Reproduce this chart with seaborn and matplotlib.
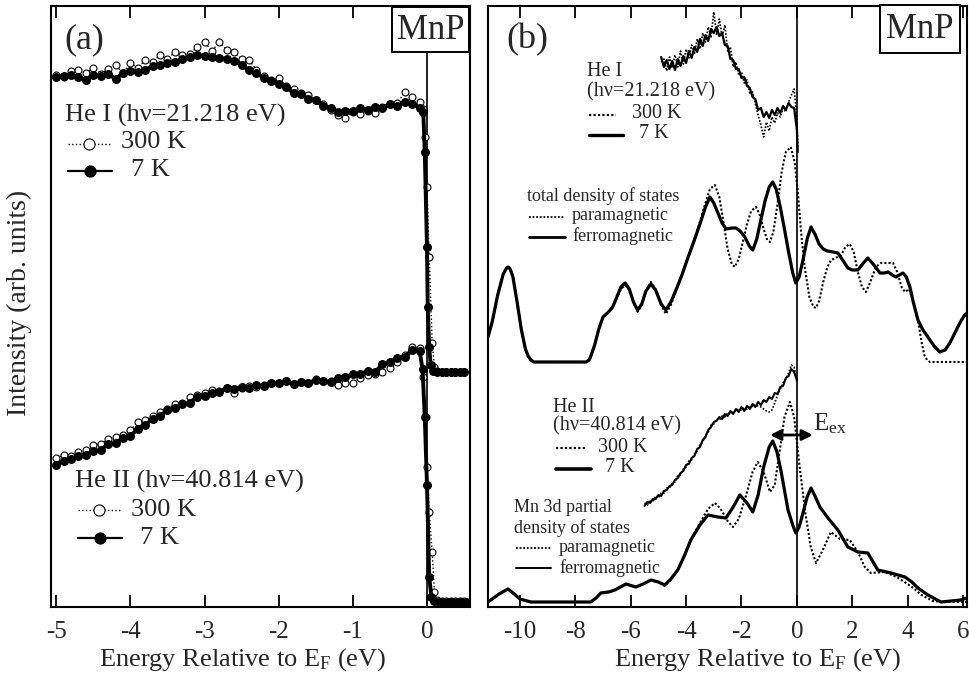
import numpy as np
import matplotlib
matplotlib.use("Agg")
import matplotlib.pyplot as plt
from matplotlib.lines import Line2D
from matplotlib.patches import Rectangle
import seaborn as sns

sns.set_style("ticks")
plt.rcParams["font.family"] = ["Liberation Serif", "DejaVu Serif"]
plt.rcParams["mathtext.fontset"] = "custom"
plt.rcParams["mathtext.rm"] = "Liberation Serif"
plt.rcParams["mathtext.it"] = "Liberation Serif:italic"
plt.rcParams["axes.unicode_minus"] = False

# ------------------------------------------------------------------
# Panel (a): photoemission spectra, energy (eV) vs intensity (arb.)
# ------------------------------------------------------------------
grid_a = np.round(np.arange(-5.0, -0.05, 0.1), 2)          # -5.0 ... -0.1

heI_7k_main = [530, 531, 532, 530, 527, 532, 531, 533, 528, 534,
               536, 535, 537, 541, 542, 544, 545, 548, 550, 552,
               551, 550, 549, 548, 546, 542, 537, 534, 529, 526,
               523, 520, 514, 513, 508, 507, 501, 499, 495, 496,
               496, 499, 497, 500, 499, 503, 501, 505, 503, 499]
heI_7k_edgeE = [-0.05, -0.03, 0.0, 0.01, 0.03, 0.05, 0.08, 0.14, 0.2, 0.26, 0.32, 0.38, 0.44, 0.5]
heI_7k_edgeI = [495, 455, 360, 300, 260, 242, 236, 235, 235, 235, 235, 235, 235, 235]

heI_300k_main = [532, 530, 536, 537, 534, 539, 533, 538, 542, 534,
                 544, 539, 547, 545, 552, 548, 555, 552, 553, 560,
                 565, 556, 565, 557, 555, 548, 547, 537, 531, 527,
                 529, 521, 518, 514, 512, 507, 503, 497, 492, 489,
                 495, 493, 496, 494, 500, 503, 504, 515, 510, 505]
heI_300k_edgeE = [-0.05, -0.03, 0.0, 0.03, 0.07, 0.1, 0.14, 0.2, 0.26, 0.32, 0.38, 0.44, 0.5]
heI_300k_edgeI = [498, 470, 420, 350, 264, 240, 236, 235, 235, 235, 235, 235, 235]

heII_7k_main = [142, 146, 148, 151, 152, 156, 157, 163, 164, 169,
                171, 178, 182, 188, 191, 197, 199, 203, 204, 210,
                211, 214, 215, 219, 218, 220, 219, 222, 221, 224,
                224, 226, 223, 225, 224, 227, 226, 225, 229, 230,
                233, 233, 236, 235, 243, 245, 249, 250, 257, 256]
heII_7k_edgeE = [-0.06, -0.03, 0.0, 0.03, 0.06, 0.1, 0.16, 0.22, 0.28, 0.34, 0.4, 0.46, 0.52]
heII_7k_edgeI = [238, 190, 122, 30, 10, 6, 5, 5, 5, 5, 5, 5, 5]

heII_300k_main = [149, 152, 151, 155, 157, 162, 163, 168, 170, 172,
                  177, 185, 187, 191, 195, 198, 203, 204, 210, 212,
                  214, 217, 216, 219, 214, 219, 221, 220, 222, 224,
                  224, 226, 223, 225, 224, 228, 226, 226, 222, 224,
                  224, 229, 232, 233, 235, 239, 245, 252, 260, 259]
heII_300k_edgeE = [-0.05, -0.02, 0.0, 0.03, 0.07, 0.1, 0.14, 0.2, 0.26, 0.32, 0.38, 0.44, 0.5]
heII_300k_edgeI = [230, 190, 140, 95, 55, 15, 7, 6, 6, 6, 6, 6, 6]

# ------------------------------------------------------------------
# Panel (b): spectra compared with calculated DOS
# ------------------------------------------------------------------
grid_b1 = np.round(np.arange(-4.9, 0.05, 0.1), 2)          # -4.9 ... 0.0
b_heI_7k = [550, 540, 547, 538, 546, 537, 548, 541, 551, 544,
            556, 549, 560, 555, 568, 561, 572, 566, 578, 574,
            580, 571, 574, 562, 561, 548, 547, 538, 538, 529,
            530, 521, 519, 510, 508, 497, 499, 490, 495, 489,
            497, 492, 499, 494, 501, 497, 504, 500, 499, 477]
b_heI_300k = [545, 548, 536, 550, 539, 552, 540, 556, 543, 558,
              548, 562, 553, 568, 558, 574, 565, 580, 570, 595,
              572, 588, 570, 582, 556, 560, 540, 545, 532, 535,
              524, 527, 514, 515, 503, 492, 482, 470, 485, 476,
              490, 484, 494, 490, 499, 495, 505, 512, 518, 490]
b_heI_endE = [0.03]
b_heI_7k_end = [455]
b_heI_300k_end = [460]

grid_b2 = np.round(np.arange(-5.5, 0.05, 0.1), 2)          # -5.5 ... 0.0
b_heII_7k = [101, 105, 104, 108, 108, 112, 111, 116, 117, 121,
             122, 127, 129, 134, 136, 142, 143, 149, 151, 158,
             160, 167, 170, 177, 180, 185, 186, 190, 188, 193,
             191, 196, 193, 198, 195, 200, 196, 201, 198, 203,
             200, 205, 202, 207, 205, 210, 208, 214, 213, 220,
             221, 229, 231, 238, 235, 227]
b_heII_300k = [104, 102, 107, 105, 111, 109, 114, 114, 119, 119,
               124, 125, 131, 132, 138, 140, 146, 147, 153, 156,
               162, 165, 172, 175, 182, 183, 188, 187, 191, 190,
               194, 193, 196, 196, 198, 197, 199, 198, 201, 200,
               202, 201, 200, 198, 196, 195, 197, 204, 212, 218,
               224, 228, 234, 242, 240, 225]

tdos_ferro_E = [-11.15, -11.0, -10.8, -10.6, -10.5, -10.43, -10.35, -10.25, -10.1, -9.95, -9.8, -9.7, -9.6,
                -9.5, -8.5, -7.6, -7.5,
                -7.45, -7.3, -7.15, -7.0, -6.8, -6.65, -6.5, -6.35, -6.2, -6.05, -5.9, -5.75, -5.6, -5.45,
                -5.27, -5.1, -4.9, -4.73, -4.55, -4.35, -4.15, -3.95, -3.7, -3.5, -3.3, -3.14, -3.0, -2.85,
                -2.7, -2.56, -2.35, -2.2, -2.05, -1.88, -1.72, -1.59, -1.45, -1.3, -1.15, -1.0, -0.87, -0.75,
                -0.6, -0.45, -0.3, -0.15, -0.04, 0.08, 0.22, 0.37, 0.51, 0.65, 0.8, 0.95, 1.1, 1.3, 1.48,
                1.65, 1.84, 2.0, 2.2, 2.4, 2.56, 2.75, 3.0, 3.15, 3.29, 3.45, 3.57, 3.7, 3.83, 3.95, 4.08,
                4.2, 4.37, 4.55, 4.73, 4.95, 5.16, 5.35, 5.52, 5.7, 5.9, 6.06, 6.14]
tdos_ferro = [270, 285, 312, 333, 338, 340, 338, 330, 305, 278, 258, 251, 247,
              245, 245, 245, 247,
              250, 262, 278, 290, 295, 300, 310, 320, 324, 318, 305, 297, 303, 316,
              323, 317, 303, 297, 305, 318, 332, 348, 367, 383, 400, 410, 404, 394,
              384, 378, 379, 379, 376, 370, 361, 357, 368, 387, 406, 420, 425, 418,
              400, 378, 355, 334, 324, 330, 347, 368, 380, 373, 363, 358, 356, 355, 354,
              347, 339, 337, 337, 344, 349, 343, 334, 334, 335, 332, 330, 332, 334, 330, 320,
              305, 287, 277, 270, 261, 255, 257, 264, 274, 285, 292, 294]

tdos_para_E = [-11.15, -11.0, -10.8, -10.6, -10.5, -10.43, -10.35, -10.25, -10.1, -9.95, -9.8, -9.7, -9.6,
               -9.5, -8.5, -7.6, -7.5,
               -7.45, -7.3, -7.15, -7.0, -6.8, -6.65, -6.5, -6.35, -6.2, -6.05, -5.9, -5.75, -5.6, -5.45,
               -5.27, -5.1, -4.9, -4.73, -4.55, -4.35, -4.15, -3.95, -3.7, -3.5, -3.3, -3.14, -2.96, -2.8,
               -2.65, -2.5, -2.35, -2.24, -2.1, -1.95, -1.8, -1.65, -1.48, -1.35, -1.2, -1.07, -0.97, -0.85,
               -0.7, -0.55, -0.4, -0.22, -0.08, 0.05, 0.15, 0.28, 0.45, 0.6, 0.69, 0.8, 0.95, 1.1, 1.23,
               1.4, 1.6, 1.75, 1.91, 2.05, 2.2, 2.35, 2.49, 2.65, 2.85, 3.03, 3.25, 3.47, 3.62, 3.78, 3.9,
               4.05, 4.2, 4.37, 4.5, 4.6, 4.7, 4.8, 6.14]
tdos_para = [270, 285, 312, 333, 339, 341, 339, 331, 305, 278, 257, 250, 246,
             245, 245, 245, 247,
             250, 262, 278, 290, 295, 300, 309, 318, 322, 317, 305, 295, 302, 316,
             325, 318, 302, 293, 302, 317, 332, 348, 368, 385, 404, 418, 422, 410,
             385, 358, 343, 340, 348, 365, 383, 396, 400, 393, 378, 367, 365, 375,
             403, 435, 455, 460, 445, 410, 375, 340, 310, 300, 299, 306, 325, 340, 347,
             349, 352, 360, 363, 355, 335, 320, 315, 325, 340, 344, 344, 344, 335, 320, 315,
             318, 305, 287, 265, 252, 247, 245, 245]

mn3d_ferro_E = [-11.15, -11.05, -10.75, -10.43, -10.2, -10.0, -9.6, -7.44, -7.25, -7.08, -6.8, -6.57,
                -6.17, -5.81, -5.55, -5.27, -5.0, -4.77, -4.55, -4.3, -4.05, -3.83, -3.5, -3.21, -2.85,
                -2.56, -2.3, -2.06, -1.8, -1.59, -1.4, -1.2, -1.0, -0.87, -0.72, -0.58, -0.45, -0.32,
                -0.15, -0.04, 0.08, 0.22, 0.37, 0.51, 0.67, 0.83, 1.12, 1.48, 1.84, 2.2, 2.56, 2.92,
                3.4, 3.9, 4.15, 4.37, 4.73, 5.2, 5.92, 6.14]
mn3d_ferro = [5, 7, 13, 18, 13, 8, 5, 5, 9, 14, 15, 17,
              23, 20, 23, 27, 25, 22, 28, 37, 52, 67, 82, 92, 90,
              89, 100, 112, 104, 95, 112, 140, 160, 166, 155, 137, 117, 97,
              82, 74, 80, 94, 110, 119, 110, 100, 89, 77, 60, 55, 54, 37,
              34, 30, 25, 19, 12, 5, 7, 9]

mn3d_para_E = [-11.15, -11.05, -10.75, -10.43, -10.2, -10.0, -9.6, -7.44, -7.25, -7.08, -6.8, -6.57,
               -6.17, -5.81, -5.55, -5.27, -5.0, -4.77, -4.55, -4.3, -4.05, -3.83, -3.5, -3.21, -2.96,
               -2.75, -2.5, -2.31, -2.1, -1.85, -1.6, -1.41, -1.2, -0.97, -0.8, -0.6, -0.45, -0.25,
               -0.1, 0.1, 0.3, 0.5, 0.69, 0.9, 1.23, 1.55, 1.91, 2.2, 2.45, 2.67, 3.18, 3.6, 3.94,
               4.2, 4.5, 4.9, 5.3, 5.92, 6.14]
mn3d_para = [5, 7, 13, 18, 13, 8, 5, 5, 9, 14, 15, 17,
             23, 20, 23, 27, 25, 21, 27, 37, 52, 67, 84, 98, 104,
             98, 86, 80, 88, 110, 135, 145, 135, 115, 122, 160, 190, 205,
             190, 140, 95, 60, 44, 55, 75, 68, 67, 55, 40, 34, 35, 30, 24,
             19, 12, 6, 5, 5, 5]

arrow_E = [-0.97, 0.58]
arrow_I = 172

# ------------------------------------------------------------------
W, H = 970, 679
fig = plt.figure(figsize=(W / 100, H / 100), dpi=100)


def fx(x):
    return x / W


def fy(y):
    return 1 - y / H


axA = fig.add_axes([fx(51), fy(607), (470 - 51) / W, (607 - 6) / H])
axB = fig.add_axes([fx(488), fy(607), (967 - 488) / W, (607 - 6) / H])


def curve(ax, x, y, **kw):
    kw.setdefault("color", "k")
    sns.lineplot(x=np.asarray(x, float), y=np.asarray(y, float), ax=ax,
                 estimator=None, sort=False, **kw)


open_kw = dict(linestyle=":", linewidth=1.0, marker="o", markersize=5.0,
               markerfacecolor="white", markeredgecolor="k", markeredgewidth=0.8)
fill_kw = dict(linestyle="-", linewidth=2.8, marker="o", markersize=5.6,
               markerfacecolor="k", markeredgecolor="k", markeredgewidth=0.8)

curve(axA, list(grid_a) + heI_300k_edgeE, heI_300k_main + heI_300k_edgeI, **open_kw)
curve(axA, list(grid_a) + heII_300k_edgeE, heII_300k_main + heII_300k_edgeI, **open_kw)
curve(axA, list(grid_a) + heI_7k_edgeE, heI_7k_main + heI_7k_edgeI, **fill_kw)
curve(axA, list(grid_a) + heII_7k_edgeE, heII_7k_main + heII_7k_edgeI, **fill_kw)
axA.axvline(0, color="k", lw=1.2, zorder=1)

dot = (0, (1, 1))
curve(axB, tdos_para_E, tdos_para, linestyle=dot, linewidth=1.5)
curve(axB, tdos_ferro_E, tdos_ferro, linestyle="-", linewidth=2.3)
curve(axB, mn3d_para_E, mn3d_para, linestyle=dot, linewidth=1.5)
curve(axB, mn3d_ferro_E, mn3d_ferro, linestyle="-", linewidth=2.3)
curve(axB, list(grid_b1) + b_heI_endE, b_heI_300k + b_heI_300k_end, linestyle=dot, linewidth=1.2)
curve(axB, list(grid_b1) + b_heI_endE, b_heI_7k + b_heI_7k_end, linestyle="-", linewidth=1.6)
curve(axB, grid_b2, b_heII_300k, linestyle=dot, linewidth=1.2)
curve(axB, grid_b2, b_heII_7k, linestyle="-", linewidth=1.5)
axB.axvline(0, color="k", lw=1.2, zorder=1)
axB.annotate("", xy=(arrow_E[0], arrow_I), xytext=(arrow_E[1], arrow_I),
             arrowprops=dict(arrowstyle="<|-|>", color="k", lw=2.0, mutation_scale=16,
                             shrinkA=0, shrinkB=0))

axA.set_xlim(-5.07, 0.58)
axB.set_xlim(-11.15, 6.14)
axA.set_xticks([-5, -4, -3, -2, -1, 0])
axB.set_xticks([-10, -8, -6, -4, -2, 0, 2, 4, 6])
for ax in (axA, axB):
    ax.set_ylim(0, 601)
    ax.set_yticks([])
    ax.set_xlabel("")
    ax.set_ylabel("")
    ax.tick_params(axis="x", direction="in", top=True, bottom=True, length=8.5,
                   width=1.3, labelsize=18, pad=10, color="k")
    for s in ax.spines.values():
        s.set_linewidth(1.5)
        s.set_color("k")
        s.set_visible(True)

# axis titles
fig.text(fx(243), fy(660), r"Energy Relative to E$_{\rm F}$ (eV)", fontsize=19, ha="center", va="center")
fig.text(fx(758), fy(660), r"Energy Relative to E$_{\rm F}$ (eV)", fontsize=19, ha="center", va="center")
fig.text(fx(19), fy(303), "Intensity (arb. units)", fontsize=20, rotation=90, ha="center", va="center")

# panel labels and MnP boxes
fig.text(fx(84), fy(40), "(a)", fontsize=26, ha="center", va="center")
fig.text(fx(527), fy(40), "(b)", fontsize=26, ha="center", va="center")
for (x0, x1, y0, y1) in [(392, 469, 7, 52), (880, 960, 5, 53)]:
    fig.add_artist(Rectangle((fx(x0), fy(y1)), (x1 - x0) / W, (y1 - y0) / H,
                             facecolor="white", edgecolor="k", lw=1.4, zorder=5))
    fig.text(fx((x0 + x1) / 2), fy((y0 + y1) / 2 + 1), "MnP", fontsize=25,
             ha="center", va="center", zorder=6)


def sample(x0, x1, y, ls, lw, marker=None, mfc="k", ms=5.8):
    fig.add_artist(Line2D([fx(x0), fx(x1)], [fy(y), fy(y)], color="k", ls=ls, lw=lw, zorder=4))
    if marker:
        fig.add_artist(Line2D([fx((x0 + x1) / 2)], [fy(y)], color="k", marker=marker, ms=ms,
                              mfc=mfc, mec="k", mew=0.8, ls="none", zorder=4))


# panel (a) legends
fig.text(fx(65), fy(115), "He I (hν=21.218 eV)", fontsize=19, va="center")
sample(68, 110, 144, ":", 1.0, "o", "white", 8)
fig.text(fx(121), fy(142), "300 K", fontsize=19, va="center")
sample(68, 112, 171, "-", 1.6, "o", "k", 8)
fig.text(fx(131), fy(170), "7 K", fontsize=19, va="center")

fig.text(fx(75), fy(481), "He II (hν=40.814 eV)", fontsize=19, va="center")
sample(78, 120, 510, ":", 1.0, "o", "white", 8)
fig.text(fx(131), fy(510), "300 K", fontsize=19, va="center")
sample(78, 122, 538, "-", 1.6, "o", "k", 8)
fig.text(fx(140), fy(538), "7 K", fontsize=19, va="center")

# panel (b) legends
fig.text(fx(587), fy(72), "He I", fontsize=14.5, va="center")
fig.text(fx(587), fy(92), "(hν=21.218 eV)", fontsize=14.5, va="center")
sample(589, 616, 115, dot, 1.6)
fig.text(fx(632), fy(114), "300 K", fontsize=14.5, va="center")
sample(589, 623, 135, "-", 2.4)
fig.text(fx(639), fy(134), "7 K", fontsize=14.5, va="center")

fig.text(fx(527), fy(196), "total density of states", fontsize=13, va="center")
sample(529, 565, 217, dot, 1.3)
fig.text(fx(572), fy(216), "paramagnetic", fontsize=13, va="center")
sample(529, 565, 237, "-", 2.0)
fig.text(fx(572), fy(236), "ferromagnetic", fontsize=13, va="center")

fig.text(fx(553), fy(407), "He II", fontsize=14.5, va="center")
fig.text(fx(553), fy(426), "(hν=40.814 eV)", fontsize=14.5, va="center")
sample(556, 587, 448, dot, 1.6)
fig.text(fx(598), fy(448), "300 K", fontsize=14.5, va="center")
sample(556, 591, 469, "-", 2.6)
fig.text(fx(605), fy(468), "7 K", fontsize=14.5, va="center")

fig.text(fx(514), fy(508), "Mn 3d partial", fontsize=13, va="center")
fig.text(fx(514), fy(528), "density of states", fontsize=13, va="center")
sample(516, 551, 548, dot, 1.3)
fig.text(fx(559), fy(548), "paramagnetic", fontsize=13, va="center")
sample(516, 551, 568, "-", 1.4)
fig.text(fx(559), fy(568), "ferromagnetic", fontsize=13, va="center")

fig.text(fx(813), fy(424), r"E$_{\rm ex}$", fontsize=18, va="center")

fig.savefig("out.png", dpi=100)
